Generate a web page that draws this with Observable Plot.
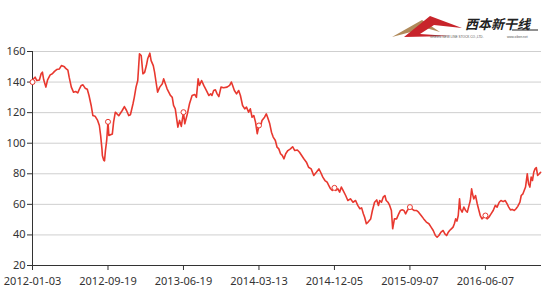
<!DOCTYPE html>
<html>
<head>
<meta charset="utf-8">
<script src="https://cdn.jsdelivr.net/npm/d3@7"></script>
<script src="https://cdn.jsdelivr.net/npm/@observablehq/plot@0.6"></script>
<style>
  html, body { margin: 0; padding: 0; background: #fff; }
  #wrap { position: relative; width: 554px; height: 294px; overflow: hidden; }
  #logo { position: absolute; left: 390px; top: 12px; width: 150px; height: 28px; }
</style>
</head>
<body>
<div id="wrap">
  <div id="chart"></div>
  <svg id="logo" viewBox="0 0 150 28" width="150" height="28">
    <polygon points="2,25 32,8 50,20 36,16" fill="#b08a5a"/>
    <polygon points="14,25 40,4 72,16 44,13 30,22 60,24" fill="#c8242b"/>
    <text x="75" y="17" font-family="Noto Sans CJK SC" font-weight="bold" font-style="italic" font-size="13" fill="#222">西本新干线</text>
    <line x1="122" y1="18" x2="148" y2="18" stroke="#222" stroke-width="1"/>
    <text x="40" y="26" font-family="Liberation Sans" font-size="3.2" fill="#555">GREEN NEW LINE STOCK CO.,LTD.</text>
    <text x="117" y="26" font-family="Liberation Sans" font-size="3.2" fill="#555">www.xiben.net</text>
  </svg>
</div>
<script>
const days = [0,2,6,10,16,20,23,26,31,35,41,46,51,56,62,67,70,74,77,82,85,90,95,100,105,109,113,117,122,127,131,136,140,145,151,155,158,161,162,165,167,169,172,175,177,185,188,192,200,208,213,218,223,227,233,236,240,244,246,248,252,256,260,264,267,272,275,280,283,287,290,295,301,304,308,312,320,324,327,331,337,341,345,350,353,359,364,370,376,380,384,387,392,397,403,409,413,416,420,424,428,432,437,443,451,457,461,464,468,473,478,482,487,492,496,501,505,509,513,517,521,525,529,532,538,542,545,550,554,558,563,567,571,575,579,583,587,592,598,603,608,614,619,624,629,635,640,646,652,658,664,668,673,678,683,687,691,695,700,703,708,712,716,720,726,731,737,743,749,754,759,763,767,770,774,778,784,788,793,798,802,805,809,813,817,820,824,828,832,835,839,844,849,853,857,861,865,869,873,875,881,885,890,895,901,907,913,919,924,929,934,938,942,947,952,956,960,964,967,971,975,978,981,984,987,990,992,996,1000,1004,1008,1011,1015,1018,1020,1023,1027,1031,1035,1038,1042,1046,1050,1054,1058,1063,1068,1073,1077,1082,1086,1091,1096,1100,1104,1108,1112,1117,1121,1125,1130,1133,1137,1143,1147,1150,1153,1156,1159,1162,1165,1168,1171,1175,1178];
const prices = [140,142,143.2,141,141.3,145.4,146.5,141.5,136.7,141.5,144.7,145.4,147,148.2,148.5,150.8,150.5,150,148.9,147.8,143.2,136.7,133.4,133.8,132.9,135.6,137.8,138.2,136,135.3,131.2,124.7,118.1,117.7,114.9,111.6,105,96.3,92,89,88.5,95,101.8,114,105,106,113.8,120.3,118,121.4,124,121.4,118.1,118.6,125.8,130,136.7,141,149.7,158.5,157.4,145.4,146.4,150.8,155.2,158.9,154,150.8,146.5,138.9,133.4,136.7,138.9,142.1,138.9,135.6,131.2,130,124.7,122.5,110.5,114.9,111,120.3,112.7,119.2,125.8,131.2,131.9,130,142.1,137.8,141,137.8,134.5,131.2,132.3,131.2,134.5,135,132.3,130.5,136.7,136.3,136.7,137.8,140,137.8,134.5,132.3,134.5,131.2,124.7,122.5,123.6,120.3,122.5,117,118.1,113.8,106.2,111.6,111.6,114.9,117,119.2,117,112.7,107.2,104,101.8,97.4,96.3,93.1,92,89.8,93.1,95.2,96.3,97.7,95.2,95.6,94.1,92,89.8,87.6,84.3,83.2,78.9,81,83.2,81,77.8,75.6,74.5,72.3,70.2,69.1,70.8,69.1,70.2,68,71.3,69.1,65.8,62.5,63.6,61.4,62.5,59.3,57.1,57.7,53.8,51.6,47.3,48.4,50.5,56,61.4,62.9,59.3,62.5,61.4,64.7,65.8,62.5,61.4,59.3,56,44,50.5,50.5,53.8,56,56.4,56,53.8,56,57.7,58.2,56.7,56,56,54.9,52.7,50.5,48.4,47.3,45.1,42.9,39.6,38.5,39.6,41.8,42.9,40.7,39.6,41.8,42.9,44,45.1,47.3,50.5,49,52.7,63.6,57.1,54.9,58.2,56,54.9,58.2,62.5,70.2,66.9,63.6,65.8,60.4,56,52.7,50.5,51.6,52.7,50.5,51.6,53.8,56,59.3,58.2,61.4,62.5,61.8,62.5,60.4,58.2,56.4,56.7,56,57.1,58.7,61.4,65.8,66.9,71.3,80,73.5,71.3,77.8,75.6,81,83.2,84,78.9,80,81];
const tickDays = [0,175,350,525,700,875,1050];
const tickLabels = ["2012-01-03","2012-09-19","2013-06-19","2014-03-13","2014-12-05","2015-09-07","2016-06-07"];
const yTicks = [20,40,60,80,100,120,140,160];

const data = days.map((d, i) => ({day: d, price: prices[i]}));
const labelOf = new Map(tickDays.map((d, i) => [d, tickLabels[i]]));
const markers = data.filter(d => labelOf.has(d.day));
const red = "#e8382f";

const chart = Plot.plot({
  width: 554,
  height: 294,
  marginTop: 51,
  marginBottom: 29,
  marginLeft: 32,
  marginRight: 13,
  style: {fontFamily: "Noto Sans", fontSize: "11px", color: "#333", background: "transparent", overflow: "hidden"},
  x: {domain: [0, 1180]},
  y: {domain: [20, 160]},
  marks: [
    Plot.gridY(yTicks, {stroke: "#cfcfcf", strokeOpacity: 1}),
    Plot.ruleX([0], {stroke: "#333"}),
    Plot.ruleY([20], {stroke: "#333"}),
    Plot.axisY(yTicks, {tickSize: 5, tickPadding: 2, label: null}),
    Plot.axisX(tickDays, {tickSize: 5, tickPadding: 7, label: null, tickFormat: d => labelOf.get(d)}),
    Plot.line(data, {x: "day", y: "price", stroke: red, strokeWidth: 1.6}),
    Plot.dot(markers, {x: "day", y: "price", r: 2.5, fill: "white", stroke: red, strokeWidth: 1})
  ]
});
document.getElementById("chart").appendChild(chart);
</script>
</body>
</html>
